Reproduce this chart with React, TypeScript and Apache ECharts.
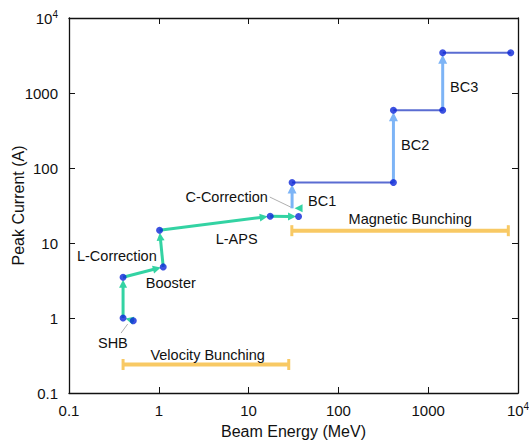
import React, { useEffect, useRef } from "react";
import * as echarts from "echarts";

// ---- data (beam energy in MeV, peak current in A) ----
const dotX = [0.4, 0.52, 0.4, 1.12, 1.02, 17.4, 36, 30.5, 410, 410, 1450, 1450, 8300];
const dotY = [1.0, 0.92, 3.5, 4.8, 14.8, 22.7, 22.5, 64, 64, 590, 590, 3450, 3450];

// green arrows: [x1, y1, x2, y2]
const greenArrows = [
  [0.53, 0.92, 0.4, 1.0],
  [0.4, 1.0, 0.4, 3.5],
  [0.4, 3.5, 1.12, 4.8],
  [1.12, 4.8, 1.02, 14.8],
  [1.02, 14.8, 17.4, 22.7],
  [17.4, 22.7, 36, 22.5],
  [38, 29, 30.5, 29],
];
// light-blue arrows (bunch compressors)
const blueArrows = [
  [30.5, 29, 30.5, 64],
  [410, 64, 410, 590],
  [1450, 590, 1450, 3450],
];
// dark blue horizontal segments
const segments = [
  [30.5, 64, 410, 64],
  [410, 590, 1450, 590],
  [1450, 3450, 8300, 3450],
];
// grey leader lines
const leaders = [
  [0.38, 0.63, 0.45, 0.83],
  [17.2, 41, 30.5, 29.5],
];
// bunching ranges: [xStart, xEnd, y]
const ranges = [
  [0.4, 28, 0.24],
  [30.3, 7800, 14.6],
];
// annotation labels
const labelText = ["SHB", "Velocity Bunching", "L-Correction", "Booster", "L-APS", "C-Correction", "BC1", "Magnetic Bunching", "BC2", "BC3"];
const labelX = [0.308, 3.5, 0.341, 1.36, 7.35, 5.7, 66, 631, 717, 2512];
const labelY = [0.464, 0.32, 6.7, 2.93, 11.3, 41, 36.3, 20.9, 203, 1202];

const axisMin = 0.1;
const axisMax = 10000;

const FONT = "'Liberation Sans', Arial, Helvetica, sans-serif";

function makeArrowRender(color: string, width: number, headLen: number, headW: number, shorten: number) {
  return (params: any, api: any) => {
    const a = api.coord([api.value(0), api.value(1)]);
    const b = api.coord([api.value(2), api.value(3)]);
    const dx = b[0] - a[0];
    const dy = b[1] - a[1];
    const len = Math.hypot(dx, dy) || 1;
    const ux = dx / len;
    const uy = dy / len;
    const tip = [b[0] - ux * shorten, b[1] - uy * shorten];
    const base = [tip[0] - ux * headLen, tip[1] - uy * headLen];
    const px = -uy;
    const py = ux;
    const children: any[] = [];
    const lineEnd = [base[0] + ux * 1, base[1] + uy * 1];
    if ((lineEnd[0] - a[0]) * ux + (lineEnd[1] - a[1]) * uy > 0) {
      children.push({
        type: "line",
        shape: { x1: a[0], y1: a[1], x2: lineEnd[0], y2: lineEnd[1] },
        style: { stroke: color, lineWidth: width },
      });
    }
    children.push({
      type: "polygon",
      shape: {
        points: [
          tip,
          [base[0] + px * headW, base[1] + py * headW],
          [base[0] - px * headW, base[1] - py * headW],
        ],
      },
      style: { fill: color },
    });
    return { type: "group", children };
  };
}

function makeSegRender(color: string, width: number) {
  return (params: any, api: any) => {
    const a = api.coord([api.value(0), api.value(1)]);
    const b = api.coord([api.value(2), api.value(3)]);
    return {
      type: "line",
      shape: { x1: a[0], y1: a[1], x2: b[0], y2: b[1] },
      style: { stroke: color, lineWidth: width },
    };
  };
}

function rangeRender(params: any, api: any) {
  const a = api.coord([api.value(0), api.value(2)]);
  const b = api.coord([api.value(1), api.value(2)]);
  const color = "#f8c964";
  const h = 5.5;
  return {
    type: "group",
    children: [
      { type: "line", shape: { x1: a[0], y1: a[1], x2: b[0], y2: b[1] }, style: { stroke: color, lineWidth: 4 } },
      { type: "line", shape: { x1: a[0], y1: a[1] - h, x2: a[0], y2: a[1] + h }, style: { stroke: color, lineWidth: 3 } },
      { type: "line", shape: { x1: b[0], y1: b[1] - h, x2: b[0], y2: b[1] + h }, style: { stroke: color, lineWidth: 3 } },
    ],
  };
}

function labelRender(params: any, api: any) {
  const p = api.coord([api.value(0), api.value(1)]);
  return {
    type: "text",
    x: p[0],
    y: p[1],
    style: {
      text: labelText[params.dataIndex],
      align: "center",
      verticalAlign: "middle",
      fontSize: 14.5,
      fontFamily: FONT,
      fill: "#111",
    },
  };
}

function tickFmt(v: number) {
  if (v >= 9999) return "{n|10}{s|4}";
  return "{n|" + String(+Number(v).toPrecision(3)) + "}";
}

const rich = {
  n: { fontSize: 15, fontFamily: FONT, color: "#111", lineHeight: 18 },
  s: { fontSize: 10, fontFamily: FONT, color: "#111", verticalAlign: "top", lineHeight: 18, padding: [0, 0, 8, 0] },
};

const axisLineStyle = { color: "#111", width: 1.3 };

export default function App() {
  const ref = useRef<HTMLDivElement>(null);
  useEffect(() => {
    if (!ref.current) return;
    const chart = echarts.init(ref.current, undefined, { renderer: "svg" });
    const common = {
      type: "log",
      logBase: 10,
      min: axisMin,
      max: axisMax,
      splitLine: { show: false },
      minorTick: { show: false },
      axisLine: { show: true, lineStyle: axisLineStyle },
      axisTick: { show: true, inside: true, length: 6, lineStyle: { color: "#111", width: 1 } },
    };
    chart.setOption({
      animation: false,
      backgroundColor: "#fff",
      grid: { left: 69, right: 11, top: 18, bottom: 52, containLabel: false, outerBoundsMode: "none" },
      xAxis: [
        {
          ...common,
          position: "bottom",
          name: "Beam Energy (MeV)",
          nameLocation: "middle",
          nameGap: 30,
          nameMoveOverlap: false,
          nameTextStyle: { fontSize: 16, fontFamily: FONT, color: "#111" },
          axisLabel: { formatter: tickFmt, rich, margin: 8 },
        },
        { ...common, position: "top", axisLabel: { show: false } },
      ],
      yAxis: [
        {
          ...common,
          position: "left",
          name: "Peak Current (A)",
          nameLocation: "middle",
          nameGap: 43,
          nameMoveOverlap: false,
          nameTextStyle: { fontSize: 16, fontFamily: FONT, color: "#111" },
          axisLabel: { formatter: tickFmt, rich, margin: 11 },
        },
        { ...common, position: "right", axisLabel: { show: false } },
      ],
      series: [
        { type: "custom", renderItem: rangeRender, data: ranges, z: 2, silent: true },
        { type: "custom", renderItem: makeSegRender("#9a9a9a", 0.8), data: leaders, z: 2, silent: true },
        { type: "custom", renderItem: makeSegRender("#5a6cd2", 2), data: segments, z: 3, silent: true },
        { type: "custom", renderItem: makeArrowRender("#7db4f6", 3, 9, 4.5, 2), data: blueArrows, z: 4, silent: true },
        { type: "custom", renderItem: makeArrowRender("#33d3a3", 3, 8, 4, 2.5), data: greenArrows, z: 4, silent: true },
        {
          type: "scatter",
          data: dotX.map((x, i) => [x, dotY[i]]),
          symbol: "circle",
          symbolSize: 7,
          itemStyle: { color: "#0d27d8" },
          z: 5,
          silent: true,
        },
        { type: "custom", renderItem: labelRender, data: labelX.map((x, i) => [x, labelY[i]]), z: 6, silent: true },
      ],
    });
    return () => chart.dispose();
  }, []);
  return <div ref={ref} style={{ position: "fixed", left: 0, top: 0, width: 529, height: 445 }} />;
}
